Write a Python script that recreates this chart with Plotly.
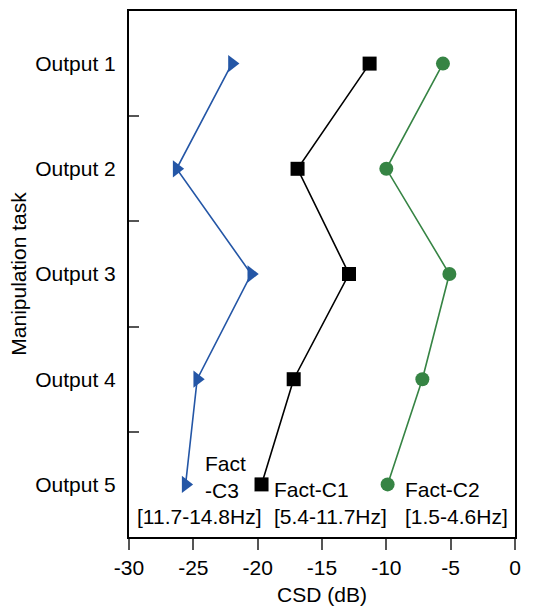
import plotly.graph_objects as go

# Manipulation tasks (top to bottom) and cross-spectral density per factor (dB)
tasks = ["Output 1", "Output 2", "Output 3", "Output 4", "Output 5"]
csd_c3 = [-22.0, -26.3, -20.5, -24.7, -25.6]   # Fact-C3 [11.7-14.8Hz]
csd_c1 = [-11.3, -16.9, -12.9, -17.2, -19.7]   # Fact-C1 [5.4-11.7Hz]
csd_c2 = [-5.6, -10.0, -5.1, -7.2, -9.9]       # Fact-C2 [1.5-4.6Hz]
x_ticks = [-30, -25, -20, -15, -10, -5, 0]

BLUE = "#2456a6"
GREEN = "#368444"
FONT = "Liberation Sans, Arial, Helvetica, sans-serif"

fig = go.Figure()
fig.add_trace(go.Scatter(
    x=csd_c3, y=tasks, mode="lines+markers", name="Fact-C3",
    line=dict(color=BLUE, width=1.6),
    marker=dict(symbol="triangle-right", size=15, color=BLUE),
))
fig.add_trace(go.Scatter(
    x=csd_c1, y=tasks, mode="lines+markers", name="Fact-C1",
    line=dict(color="black", width=1.6),
    marker=dict(symbol="square", size=14, color="black"),
))
fig.add_trace(go.Scatter(
    x=csd_c2, y=tasks, mode="lines+markers", name="Fact-C2",
    line=dict(color=GREEN, width=1.6),
    marker=dict(symbol="circle", size=14, color=GREEN),
))

# Factor labels in the lower part of the panel
labels = [
    dict(text="Fact<br>-C3", x=(203 - 129) / 386, y=(540 - 479) / 531),
    dict(text="[11.7-14.8Hz]", x=(135 - 129) / 386, y=(540 - 519) / 531),
    dict(text="Fact-C1<br>[5.4-11.7Hz]", x=(272 - 129) / 386, y=(540 - 506) / 531),
    dict(text="Fact-C2<br>[1.5-4.6Hz]", x=(403 - 129) / 386, y=(540 - 506) / 531),
]
for lab in labels:
    fig.add_annotation(
        text=lab["text"], x=lab["x"], y=lab["y"], xref="paper", yref="paper",
        xanchor="left", yanchor="middle", align="left", showarrow=False,
        font=dict(family=FONT, size=21, color="black"),
    )

fig.update_layout(
    width=538, height=612,
    margin=dict(l=129, r=23, t=9, b=72),
    paper_bgcolor="white", plot_bgcolor="white",
    showlegend=False,
    font=dict(family=FONT, size=21, color="black"),
)
fig.update_xaxes(
    range=[-30, 0], tickvals=x_ticks, ticktext=[str(v) for v in x_ticks],
    ticks="outside", ticklen=11, tickwidth=1.5, tickcolor="#555",
    showgrid=False, zeroline=False,
    showline=True, linecolor="black", linewidth=2, mirror=True,
    title=dict(text="CSD (dB)", standoff=9, font=dict(size=21)),
    tickfont=dict(size=21),
)
fig.update_yaxes(
    type="category", categoryorder="array", categoryarray=tasks,
    range=[4.5, -0.5], tickson="boundaries",
    ticks="inside", ticklen=10, tickwidth=1.5, tickcolor="#555",
    ticklabelstandoff=7,
    showgrid=False, zeroline=False,
    showline=True, linecolor="black", linewidth=2, mirror=True,
    title=dict(text="Manipulation task", standoff=3, font=dict(size=21)),
    tickfont=dict(size=21),
)

fig.write_html("out.html")
